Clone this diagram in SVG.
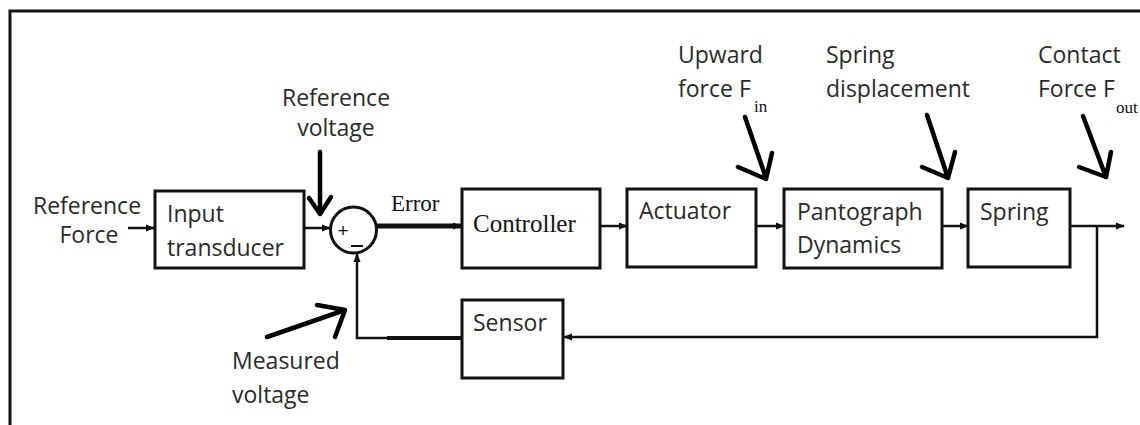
<svg xmlns="http://www.w3.org/2000/svg" width="1140" height="425" viewBox="0 0 1140 425">
<defs>
<style>
.box{fill:#fff;stroke:#111;stroke-width:3}
.t{font-family:"Open Sans","Liberation Sans",sans-serif;font-size:23px;fill:#2a2a2a}
.s{font-family:"Liberation Serif","Times New Roman",serif;fill:#111}
.c{fill:none;stroke:#111;stroke-width:2.5}
.hand{fill:none;stroke:#000;stroke-width:4.5;stroke-linecap:round;stroke-linejoin:round}
</style>
<marker id="ah" viewBox="0 0 10 10" refX="9" refY="5" markerWidth="9" markerHeight="9" markerUnits="userSpaceOnUse" orient="auto">
<path d="M0,1 L10,5 L0,9 Z" fill="#111"/>
</marker>
</defs>
<rect width="1140" height="425" fill="#fff"/>
<path d="M10,425 V11 H1140" fill="none" stroke="#111" stroke-width="3"/>

<g id="connectors">
<line class="c" x1="128" y1="228" x2="154" y2="228" marker-end="url(#ah)"/>
<line class="c" x1="304" y1="228" x2="330" y2="228" marker-end="url(#ah)"/>
<line x1="377" y1="226" x2="461" y2="226" stroke="#111" stroke-width="5" marker-end="url(#ah)"/>
<line class="c" x1="600" y1="226" x2="627" y2="226" marker-end="url(#ah)"/>
<line class="c" x1="756" y1="226" x2="784" y2="226" marker-end="url(#ah)"/>
<line class="c" x1="942" y1="226" x2="968" y2="226" marker-end="url(#ah)"/>
<line class="c" x1="1070" y1="226" x2="1124" y2="226" marker-end="url(#ah)"/>
<path class="c" d="M1097,226 V337 H564" marker-end="url(#ah)"/>
<path class="c" d="M462,338 H357 V254" marker-end="url(#ah)"/>
<line x1="387" y1="338" x2="462" y2="338" stroke="#111" stroke-width="4"/>
<path class="hand" d="M320,152 L320,213 M309,198 L320,214 L331,197"/>
<path class="hand" d="M745,117 L766,178 M738,167 L766,179 L772,153"/>
<path class="hand" d="M927,115 L948,178 M922,167 L948,178 L955,152"/>
<path class="hand" d="M1083,116 L1106,177 M1079,167 L1106,177 L1111,152"/>
<path class="hand" d="M267,337 L345,310 M317,305 L345,310 L335,337"/>
</g>

<g id="label-reference-force">
<text class="t" x="87" y="214" text-anchor="middle" font-size="22">Reference</text>
<text class="t" x="89" y="243" text-anchor="middle" font-size="22">Force</text>
</g>

<g id="input-transducer">
<rect class="box" x="155" y="191" width="149" height="77"/>
<text class="t" x="167" y="222">Input</text>
<text class="t" x="167" y="256">transducer</text>
</g>

<g id="summing-junction">
<circle cx="353.5" cy="230" r="23" fill="#fff" stroke="#111" stroke-width="3"/>
<text x="343" y="237" font-family="Liberation Sans, sans-serif" font-size="19" text-anchor="middle" fill="#111">+</text>
<line x1="351" y1="246" x2="363" y2="246" stroke="#111" stroke-width="2"/>
</g>

<g id="label-reference-voltage">
<text class="t" x="336" y="106" text-anchor="middle" font-size="21.5">Reference</text>
<text class="t" x="336" y="136" text-anchor="middle" font-size="21.5">voltage</text>
</g>

<g id="label-error">
<text class="s" x="391" y="211" font-size="23">Error</text>
</g>

<g id="controller">
<rect class="box" x="462" y="189" width="138" height="79"/>
<text class="s" x="473" y="232" font-size="25">Controller</text>
</g>

<g id="actuator">
<rect class="box" x="627" y="189" width="129" height="78"/>
<text class="t" x="639" y="219" font-size="24">Actuator</text>
</g>

<g id="pantograph-dynamics">
<rect class="box" x="784" y="189" width="158" height="79"/>
<text class="t" x="797" y="220">Pantograph</text>
<text class="t" x="797" y="253">Dynamics</text>
</g>

<g id="spring">
<rect class="box" x="968" y="189" width="102" height="78"/>
<text class="t" x="980" y="220">Spring</text>
</g>

<g id="sensor">
<rect class="box" x="462" y="300" width="101" height="78"/>
<text class="t" x="473" y="331">Sensor</text>
</g>

<g id="label-upward-force">
<text class="t" x="678" y="63">Upward</text>
<text class="t" x="678" y="97">force F</text>
<text class="s" x="754" y="112" font-size="17">in</text>
</g>

<g id="label-spring-displacement">
<text class="t" x="826" y="63">Spring</text>
<text class="t" x="826" y="97">displacement</text>
</g>

<g id="label-contact-force">
<text class="t" x="1038" y="63">Contact</text>
<text class="t" x="1038" y="97">Force F</text>
<text class="s" x="1116" y="113" font-size="17">out</text>
</g>

<g id="label-measured-voltage">
<text class="t" x="232" y="369">Measured</text>
<text class="t" x="232" y="403">voltage</text>
</g>
</svg>
